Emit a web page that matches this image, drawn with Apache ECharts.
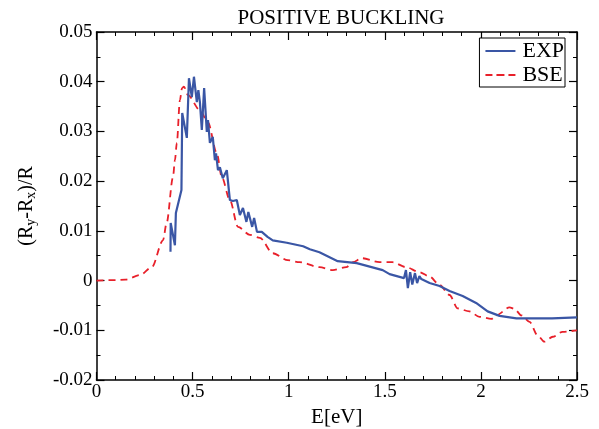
<!DOCTYPE html>
<html>
<head>
<meta charset="utf-8">
<script src="https://cdn.jsdelivr.net/npm/echarts@6/dist/echarts.min.js"></script>
<style>
html,body{margin:0;padding:0;background:#fff;}
#main{width:599px;height:429px;}
</style>
</head>
<body>
<div id="main"></div>
<script>
const titleText = 'POSITIVE BUCKLING';
const xTicks = [0, 0.5, 1, 1.5, 2, 2.5];
const yTicks = [-0.02, -0.01, 0, 0.01, 0.02, 0.03, 0.04, 0.05];

const expE = [0.385,0.386,0.408,0.413,0.442,0.446,0.470,0.481,0.496,0.507,0.522,0.530,0.538,0.548,0.560,0.574,0.580,0.590,0.605,0.616,0.622,0.632,0.642,0.657,0.678,0.694,0.710,0.730,0.746,0.762,0.780,0.790,0.810,0.820,0.835,0.860,0.890,0.917,0.990,1.075,1.110,1.160,1.255,1.354,1.489,1.525,1.600,1.610,1.620,1.632,1.643,1.657,1.668,1.680,1.690,1.733,1.785,1.837,1.905,1.975,2.035,2.097,2.185,2.370,2.500];
const expV = [0.0058,0.0116,0.0071,0.0136,0.0182,0.0337,0.0287,0.0407,0.0369,0.0410,0.0359,0.0383,0.0359,0.0303,0.0387,0.0299,0.0323,0.0277,0.0289,0.0242,0.0256,0.0222,0.0228,0.0206,0.0222,0.0162,0.0160,0.0162,0.0132,0.0146,0.0118,0.0138,0.0108,0.0126,0.0098,0.0098,0.0088,0.0081,0.0076,0.0069,0.0063,0.0057,0.0039,0.0035,0.0021,0.0013,0.0005,0.0021,-0.0015,0.0017,-0.0008,0.0015,-0.0005,0.0009,0.0003,-0.0005,-0.0011,-0.0021,-0.0031,-0.0045,-0.0062,-0.0071,-0.0076,-0.0076,-0.0074];

const bseE = [0,0.1,0.15,0.226,0.288,0.346,0.365,0.398,0.408,0.418,0.434,0.445,0.455,0.476,0.538,0.580,0.626,0.652,0.694,0.736,0.798,0.850,0.917,0.995,1.057,1.160,1.230,1.300,1.334,1.380,1.473,1.540,1.610,1.680,1.733,1.785,1.837,1.879,1.940,1.993,2.055,2.080,2.149,2.175,2.210,2.253,2.295,2.330,2.374,2.425,2.500];
const bseV = [0,0.0001,0.0002,0.0011,0.0027,0.0081,0.0116,0.0208,0.0242,0.0277,0.0363,0.0387,0.0390,0.0373,0.0343,0.0318,0.0256,0.0208,0.0162,0.0108,0.0092,0.0086,0.0055,0.0041,0.0037,0.0027,0.0021,0.0027,0.0037,0.0045,0.0037,0.0037,0.0027,0.0017,0.0008,-0.0009,-0.0029,-0.0056,-0.0062,-0.0073,-0.0077,-0.0070,-0.0054,-0.0057,-0.0070,-0.0083,-0.0110,-0.0123,-0.0113,-0.0103,-0.0100];

const serif = '"Liberation Serif","DejaVu Serif",serif';
const chart = echarts.init(document.getElementById('main'), null, {renderer:'canvas'});
function axLine(){ return {show:true, onZero:false, lineStyle:{color:'#000', width:1.5}}; }
function tick(){ return {show:true, inside:true, length:8, lineStyle:{color:'#000', width:1.2}}; }
function xBase(){ return {type:'value', min:xTicks[0], max:xTicks[xTicks.length-1], interval:0.5, splitLine:{show:false}, axisLine:axLine(),
  axisTick:tick(), minorTick:{show:true, splitNumber:5, length:4, lineStyle:{color:'#000', width:1}}}; }
function yBase(){ return {type:'value', min:yTicks[0], max:yTicks[yTicks.length-1], interval:0.01, splitLine:{show:false}, axisLine:axLine(),
  axisTick:tick(), minorTick:{show:true, splitNumber:2, length:4, lineStyle:{color:'#000', width:1}}}; }

chart.setOption({
  backgroundColor:'#fff',
  animation:false,
  title:{text:titleText, left:336, top:3, textAlign:'center',
    textStyle:{fontFamily:serif, fontSize:21, fontWeight:'normal', color:'#000'}},
  legend:{right:34, top:38, orient:'vertical', itemWidth:30, itemHeight:10, itemGap:2,
    padding:[2,1,1,6], borderColor:'#000', borderWidth:1, borderRadius:0, backgroundColor:'#fff',
    textStyle:{fontFamily:serif, fontSize:22, color:'#000', padding:[0,0,0,2]},
    data:[{name:'EXP', icon:'path://M0,4h30v2h-30z'}, {name:'BSE', icon:'path://M0,4h7v2h-7zM11,4h8v2h-8zM23,4h7v2h-7z'}]},
  grid:{left:96.5, right:22, top:32, bottom:49, containLabel:false, outerBoundsMode:'none'},
  xAxis:[
    Object.assign(xBase(), {position:'bottom', name:'E[eV]', nameLocation:'middle', nameGap:24,
      nameTextStyle:{fontFamily:serif, fontSize:21, color:'#000'},
      axisLabel:{fontFamily:serif, fontSize:19, color:'#000', margin:3,
        formatter:v=>String(v)}}),
    Object.assign(xBase(), {position:'top', axisLabel:{show:false}})
  ],
  yAxis:[
    Object.assign(yBase(), {position:'left', name:'{a|(R}{s|y}{a|-R}{s|x}{a|)/R}', nameLocation:'middle', nameGap:58, nameRotate:90,
      nameTextStyle:{rich:{a:{fontFamily:serif, fontSize:20, color:'#000'}, s:{fontFamily:serif, fontSize:14, color:'#000', verticalAlign:'bottom', padding:[10,0,0,0]}}},
      axisLabel:{fontFamily:serif, fontSize:19, color:'#000', margin:4,
        formatter:v=>{const r=Math.round(v*100)/100; return r===0?'0':String(r);}}}),
    Object.assign(yBase(), {position:'right', axisLabel:{show:false}})
  ],
  series:[
    {name:'EXP', type:'line', xAxisIndex:0, yAxisIndex:0, showSymbol:false, symbol:'none',
      data:expE.map((e,i)=>[e, expV[i]]), lineStyle:{color:'#3a56a5', width:2.2}, itemStyle:{color:'#3a56a5'}, z:3},
    {name:'BSE', type:'line', xAxisIndex:0, yAxisIndex:0, showSymbol:false, symbol:'none', smooth:0.3, smoothMonotone:'x',
      data:bseE.map((e,i)=>[e, bseV[i]]), lineStyle:{color:'#e8202a', width:1.8, type:[7,5]}, itemStyle:{color:'#e8202a'}, z:2}
  ]
});
</script>
</body>
</html>
